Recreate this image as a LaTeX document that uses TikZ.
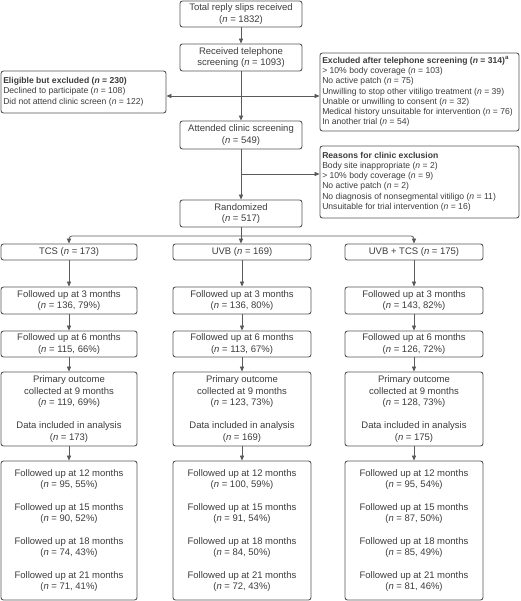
\documentclass[tikz,border=0pt]{standalone}
\usepackage{fontspec}
\setmainfont{Liberation Sans}
\usetikzlibrary{arrows.meta}
\definecolor{txt}{HTML}{3C3C3C}
\definecolor{edge}{HTML}{555555}
\definecolor{ln}{HTML}{5A5A5A}
\tikzset{
  box/.style={draw=edge, line width=0.9pt, rounded corners=2.5pt, text=txt, align=center,
    inner sep=0pt, font=\fontsize{9.5}{11.6}\selectfont},
  frame/.style={draw=edge, line width=0.9pt, rounded corners=2.5pt, inner sep=0pt},
  sidetext/.style={text=txt, align=left, anchor=west, inner sep=0pt,
    font=\fontsize{8.6}{10.2}\selectfont},
  arr/.style={draw=ln, line width=0.8pt, -{Triangle[length=5pt,width=4.2pt]}},
  ln/.style={draw=ln, line width=0.8pt}
}
\newcommand{\nn}{\textit{n}}
\begin{document}
\begin{tikzpicture}[x=1pt,y=-1pt]
\useasboundingbox (0,0) rectangle (520,601);
% main column
\node[box, minimum width=122pt, minimum height=26pt] (top) at (241,14) {Total reply slips received\\(\nn{} = 1832)};
\node[box, minimum width=122pt, minimum height=27pt] (tel) at (241,57.5) {Received telephone\\screening (\nn{} = 1093)};
\node[box, minimum width=122pt, minimum height=28pt] (att) at (241,135) {Attended clinic screening\\(\nn{} = 549)};
\node[box, minimum width=122pt, minimum height=27pt] (rand) at (241,213.5) {Randomized\\(\nn{} = 517)};
% side boxes
\node[frame, minimum width=165pt, minimum height=42pt] (elig) at (83.5,92) {};
\node[sidetext] (eligt) at ([xshift=2.5pt,yshift=0.3pt]elig.west)
 {\textbf{Eligible but excluded (\textit{n} = 230)}\\Declined to participate (\nn{} = 108)\\Did not attend clinic screen (\nn{} = 122)};
\node[frame, minimum width=199pt, minimum height=78pt] (excl) at (419.5,92) {};
\node[sidetext] (exclt) at ([xshift=2.5pt,yshift=0.5pt]excl.west)
 {\textbf{Excluded after telephone screening (\textit{n} = 314)\textsuperscript{a}}\\
  > 10\% body coverage (\nn{} = 103)\\
  No active patch (\nn{} = 75)\\
  Unwilling to stop other vitiligo treatment (\nn{} = 39)\\
  Unable or unwilling to consent (\nn{} = 32)\\
  Medical history unsuitable for intervention (\nn{} = 76)\\
  In another trial (\nn{} = 54)};
\node[frame, minimum width=199pt, minimum height=72pt] (reas) at (419.5,182) {};
\node[sidetext] (reast) at ([xshift=2.5pt,yshift=0.5pt]reas.west)
 {\textbf{Reasons for clinic exclusion}\\
  Body site inappropriate (\nn{} = 2)\\
  > 10\% body coverage (\nn{} = 9)\\
  No active patch (\nn{} = 2)\\
  No diagnosis of nonsegmental vitiligo (\nn{} = 11)\\
  Unsuitable for trial intervention (\nn{} = 16)};
% arms
\node[box, minimum width=136pt, minimum height=16pt] (a1) at (69,252) {TCS (\nn{} = 173)};
\node[box, minimum width=138pt, minimum height=16pt] (a2) at (242,252) {UVB (\nn{} = 169)};
\node[box, minimum width=138pt, minimum height=16pt] (a3) at (414,252) {UVB + TCS (\nn{} = 175)};
% follow-ups
\node[box, minimum width=136pt, minimum height=27pt] (b1) at (69,300.5) {Followed up at 3 months\\(\nn{} = 136, 79\%)};
\node[box, minimum width=138pt, minimum height=27pt] (b2) at (242,300.5) {Followed up at 3 months\\(\nn{} = 136, 80\%)};
\node[box, minimum width=138pt, minimum height=27pt] (b3) at (414,300.5) {Followed up at 3 months\\(\nn{} = 143, 82\%)};
\node[box, minimum width=136pt, minimum height=26pt] (c1) at (69,344) {Followed up at 6 months\\(\nn{} = 115, 66\%)};
\node[box, minimum width=138pt, minimum height=26pt] (c2) at (242,344) {Followed up at 6 months\\(\nn{} = 113, 67\%)};
\node[box, minimum width=138pt, minimum height=26pt] (c3) at (414,344) {Followed up at 6 months\\(\nn{} = 126, 72\%)};
\node[box, minimum width=136pt, minimum height=74pt] (d1) at (69,409) {Primary outcome\\collected at 9 months\\(\nn{} = 119, 69\%)\\[11.6pt]Data included in analysis\\(\nn{} = 173)};
\node[box, minimum width=138pt, minimum height=74pt] (d2) at (242,409) {Primary outcome\\collected at 9 months\\(\nn{} = 123, 73\%)\\[11.6pt]Data included in analysis\\(\nn{} = 169)};
\node[box, minimum width=138pt, minimum height=74pt] (d3) at (414,409) {Primary outcome\\collected at 9 months\\(\nn{} = 128, 73\%)\\[11.6pt]Data included in analysis\\(\nn{} = 175)};
\node[box, minimum width=136pt, minimum height=139pt] (e1) at (69,530.5) {Followed up at 12 months\\(\nn{} = 95, 55\%)\\[10.7pt]Followed up at 15 months\\(\nn{} = 90, 52\%)\\[10.7pt]Followed up at 18 months\\(\nn{} = 74, 43\%)\\[10.7pt]Followed up at 21 months\\(\nn{} = 71, 41\%)};
\node[box, minimum width=138pt, minimum height=139pt] (e2) at (242,530.5) {Followed up at 12 months\\(\nn{} = 100, 59\%)\\[10.7pt]Followed up at 15 months\\(\nn{} = 91, 54\%)\\[10.7pt]Followed up at 18 months\\(\nn{} = 84, 50\%)\\[10.7pt]Followed up at 21 months\\(\nn{} = 72, 43\%)};
\node[box, minimum width=138pt, minimum height=139pt] (e3) at (414,530.5) {Followed up at 12 months\\(\nn{} = 95, 54\%)\\[10.7pt]Followed up at 15 months\\(\nn{} = 87, 50\%)\\[10.7pt]Followed up at 18 months\\(\nn{} = 85, 49\%)\\[10.7pt]Followed up at 21 months\\(\nn{} = 81, 46\%)};
% connectors
\coordinate (j1) at (241,96);
\coordinate (j2) at (241,174);
\coordinate (j3) at (241,236);
\draw[arr] (top) -- (tel);
\draw[arr] (tel) -- (att);
\draw[arr] (j1) -- (elig.east |- j1);
\draw[arr] (j1) -- (excl.west |- j1);
\draw[arr] (att) -- (rand);
\draw[arr] (j2) -- (reas.west |- j2);
\draw[arr] (rand.south) -- (rand.south |- a2.north);
\draw[arr, rounded corners=3pt] (j3) -| (a1.north);
\draw[arr, rounded corners=3pt] (j3) -| (a3.north);
\foreach \i in {1,2,3}{
  \draw[arr] (a\i) -- (b\i);
  \draw[arr] (b\i) -- (c\i);
  \draw[arr] (c\i) -- (d\i);
  \draw[arr] (d\i) -- (e\i);
}
\end{tikzpicture}
\end{document}
